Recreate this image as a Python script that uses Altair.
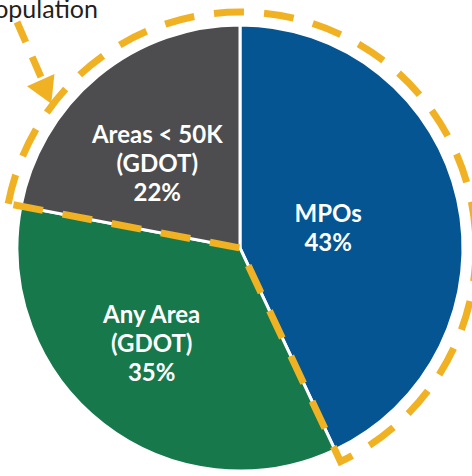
import math
import altair as alt
import pandas as pd

# ---- data ----
categories = ["MPOs", "Any Area (GDOT)", "Areas < 50K (GDOT)"]
values = [43, 35, 22]
label_lines = [["MPOs", "43%"], ["Any Area", "(GDOT)", "35%"], ["Areas < 50K", "(GDOT)", "22%"]]
colors = ["#045591", "#17784B", "#4D4D4F"]
highlighted = ["MPOs", "Areas < 50K (GDOT)"]
annotation_text = "Population"

# ---- layout / style helpers ----
label_radius = [90, 131, 117]
label_nudge_deg = [1, 4.6, -5.4]
CX, CY, R = 240, 248, 223
LH = 29

total = sum(values)
rows = []
acc = 0.0
for cat, v, lines, r, nd in zip(categories, values, label_lines, label_radius, label_nudge_deg):
    t0 = acc / total * 2 * math.pi
    t1 = (acc + v) / total * 2 * math.pi
    tm = (t0 + t1) / 2 + math.radians(nd)
    lx = CX + r * math.sin(tm)
    ly = CY - r * math.cos(tm) - (len(lines) - 1) * LH / 2
    rows.append(dict(cat=cat, value=v, t0=t0, t1=t1, lx=lx, ly=ly, label=lines))
    acc += v
df = pd.DataFrame(rows)

# outline around highlighted slices (contiguous, wrapping through 0)
start = df.loc[df.cat == "Areas < 50K (GDOT)", "t0"].iloc[0] - 2 * math.pi
end = df.loc[df.cat == "MPOs", "t1"].iloc[0]
outline_df = pd.DataFrame([dict(t0=start, t1=end)])

color_scale = alt.Scale(domain=categories, range=colors)

pie = alt.Chart(df).mark_arc(outerRadius=R, stroke="white", strokeWidth=3).encode(
    theta=alt.Theta("t0:Q", scale=None),
    theta2="t1:Q",
    color=alt.Color("cat:N", scale=color_scale, legend=None),
    x=alt.value(CX), y=alt.value(CY),
)

outline = alt.Chart(outline_df).mark_arc(
    outerRadius=236, fill="transparent",
    stroke="#F0B223", strokeWidth=7, strokeDash=[30, 20], strokeJoin="miter",
).encode(
    theta=alt.Theta("t0:Q", scale=None),
    theta2="t1:Q",
    x=alt.value(CX), y=alt.value(CY),
)

labels = alt.Chart(df).mark_text(
    font="Lato", fontWeight="bold", fontSize=24, color="white",
    lineHeight=LH, align="center", baseline="middle",
).encode(
    x=alt.X("lx:Q", scale=None),
    y=alt.Y("ly:Q", scale=None),
    text="label",
)

annot_df = pd.DataFrame([dict(t=annotation_text)])
annot = alt.Chart(annot_df).mark_text(
    font="Lato", fontSize=25, color="#231F20", align="right", baseline="alphabetic",
).encode(text="t:N", x=alt.value(98), y=alt.value(18))

arrow_line = alt.Chart(annot_df).mark_rule(
    stroke="#F0B223", strokeWidth=7, strokeDash=[22, 16],
).encode(x=alt.value(17), y=alt.value(22), x2=alt.value(44), y2=alt.value(84))

arrow_head = alt.Chart(annot_df).mark_point(
    shape="triangle-down", filled=True, fill="#F0B223", color="#F0B223",
    size=900, angle=336, opacity=1,
).encode(x=alt.value(46), y=alt.value(92))

chart = alt.layer(pie, outline, labels, annot, arrow_line, arrow_head).properties(
    width=472, height=476, padding=0,
    autosize=alt.AutoSizeParams(type="none"),
).configure_view(stroke=None)

chart.save("out.html", embed_options={"renderer": "svg", "actions": False})
